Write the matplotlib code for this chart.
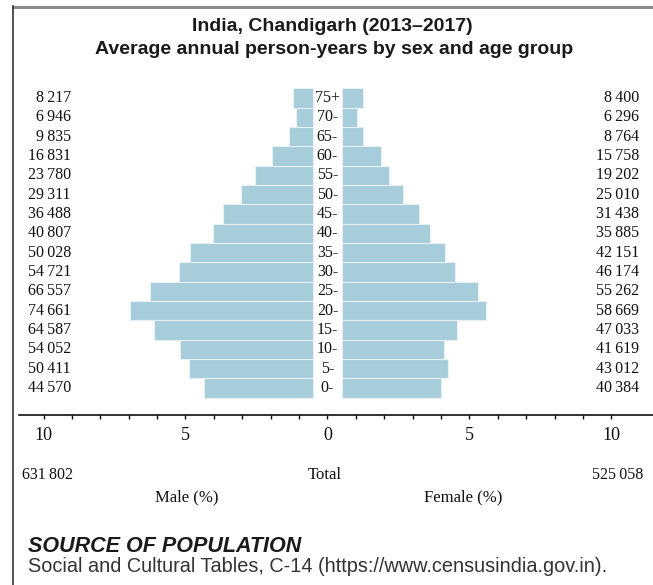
import matplotlib
matplotlib.use("Agg")
import matplotlib.pyplot as plt
from matplotlib.lines import Line2D
from matplotlib.ticker import FixedLocator, FixedFormatter

# ---- data ----
ages = ['0-', '5-', '10-', '15-', '20-', '25-', '30-', '35-', '40-', '45-',
        '50-', '55-', '60-', '65-', '70-', '75+']
male = [44570, 50411, 54052, 64587, 74661, 66557, 54721, 50028, 40807, 36488,
        29311, 23780, 16831, 9835, 6946, 8217]
female = [40384, 43012, 41619, 47033, 58669, 55262, 46174, 42151, 35885, 31438,
          25010, 19202, 15758, 8764, 6296, 8400]
total_male = 631802
total_female = 525058
tick_values = [-10, -5, 0, 5, 10]
tick_labels = ['10', '5', '0', '5', '10']

W, H = 653, 585
fig = plt.figure(figsize=(W / 100, H / 100), dpi=100)
fig.patch.set_facecolor('white')

def fx(px):
    return px / W

def fy(py):
    return 1 - py / H

# axes placement in pixels
ax_left, ax_right = 19, 653
ax_top, ax_bottom = 85, 415
ax = fig.add_axes([fx(ax_left), fy(ax_bottom), (ax_right - ax_left) / W,
                   (ax_bottom - ax_top) / H])

unit = 28.4       # px per percent
center = 327.5    # px of zero
pitch = 19.3      # px per row
row0 = 388        # px centre of row 0
ax.set_xlim((ax_left - center) / unit, (ax_right - center) / unit)
ax.set_ylim(-(ax_bottom - row0) / pitch, 15 + (98 - ax_top) / pitch)

grand = total_male + total_female
gap = 0.51
bar_color = '#a8cdda'
edge_color = '#e4f0f4'
serif = ['Liberation Serif', 'DejaVu Serif']
num_size = 11.5

for i, (a, m, f) in enumerate(zip(ages, male, female)):
    pm = m / grand * 100
    pf = f / grand * 100
    ax.barh(i, pm, left=-gap - pm, height=1.0, color=bar_color,
            edgecolor=edge_color, linewidth=0.8)
    ax.barh(i, pf, left=gap, height=1.0, color=bar_color,
            edgecolor=edge_color, linewidth=0.8)
    ax.text(0, i, a, ha='center', va='center', fontsize=num_size, family=serif,
            color='#111111')
    ax.text((71 - center) / unit, i, f"{m:,}".replace(',', '\u2009'),
            ha='right', va='center', fontsize=num_size, family=serif, color='#111111')
    ax.text((639 - center) / unit, i, f"{f:,}".replace(',', '\u2009'),
            ha='right', va='center', fontsize=num_size, family=serif, color='#111111')

for s in ['top', 'right', 'left']:
    ax.spines[s].set_visible(False)
ax.spines['bottom'].set_linewidth(1.2)
ax.spines['bottom'].set_color('#111111')
ax.set_yticks([])
ax.xaxis.set_major_locator(FixedLocator(tick_values))
ax.xaxis.set_major_formatter(FixedFormatter(tick_labels))
ax.xaxis.set_minor_locator(FixedLocator([v for v in range(-10, 11) if v % 5 != 0]))
ax.tick_params(axis='x', which='both', direction='out', length=3, width=1,
               color='#111111', pad=6)
ax.tick_params(axis='x', which='major', labelsize=13, labelcolor='#111111')
for lab in ax.get_xticklabels():
    lab.set_family(serif)
ax.patch.set_alpha(0)

# titles
fig.text(fx(332), fy(26.5), 'India, Chandigarh (2013\u20132017)', ha='center',
         va='center', fontsize=14, fontweight='bold', family='Liberation Sans',
         color='#1a1a1a')
fig.text(fx(334), fy(49.5), 'Average annual person-years by sex and age group',
         ha='center', va='center', fontsize=14, fontweight='bold',
         family='Liberation Sans', color='#1a1a1a')

# totals and axis names
fig.text(fx(22), fy(475), f"{total_male:,}".replace(',', '\u2009'), ha='left',
         va='center', fontsize=num_size, family=serif, color='#111111')
fig.text(fx(325), fy(475), 'Total', ha='center', va='center', fontsize=12,
         family=serif, color='#111111')
fig.text(fx(643), fy(475), f"{total_female:,}".replace(',', '\u2009'), ha='right',
         va='center', fontsize=num_size, family=serif, color='#111111')
fig.text(fx(187), fy(497), 'Male (%)', ha='center', va='center', fontsize=12,
         family=serif, color='#111111')
fig.text(fx(463), fy(497), 'Female (%)', ha='center', va='center', fontsize=12,
         family=serif, color='#111111')

# source
fig.text(fx(28), fy(546.5), 'SOURCE OF POPULATION', ha='left', va='center',
         fontsize=15.5, fontweight='bold', fontstyle='italic',
         family='Liberation Sans', color='#1a1a1a')
fig.text(fx(28), fy(566), 'Social and Cultural Tables, C-14 (https://www.censusindia.gov.in).',
         ha='left', va='center', fontsize=14.3, family='Liberation Sans',
         color='#333333')

# frame
fig.add_artist(Line2D([fx(13), 1], [fy(7), fy(7)], color='#8c8c8c', lw=2.2,
                      transform=fig.transFigure))
fig.add_artist(Line2D([fx(13), fx(13)], [fy(6), 0], color='#333333', lw=1.2,
                      transform=fig.transFigure))

fig.savefig('out.png', dpi=100)
